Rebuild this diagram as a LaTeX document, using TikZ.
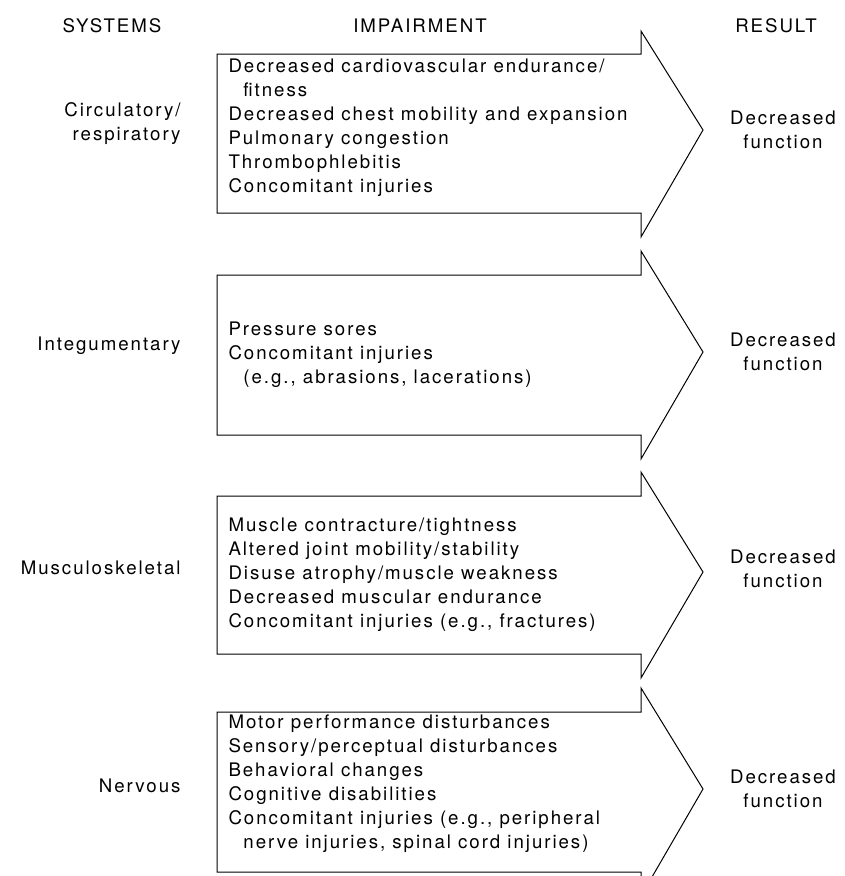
\documentclass[tikz,border=0pt]{standalone}
\usepackage{fontspec}
\setmainfont{TeX Gyre Heros}[LetterSpace=10.5]
\usepackage{tikz}
\usetikzlibrary{positioning}

\begin{document}
\begin{tikzpicture}[
	x=0.75pt, y=-0.75pt,
	line width=0.75pt,
	font=\fontsize{14}{18}\selectfont
]
\tikzset{
    header/.style = {inner sep=0pt},
    sysnode/.style = {anchor=east, align=right, inner sep=0pt},
    impnode/.style = {anchor=west, align=left, inner sep=0pt},
    resnode/.style = {align=center, inner sep=0pt},
    bigarrow/.style = {draw=black, line join=miter},
}
\useasboundingbox (0,0) rectangle (844,876);

% column heads
\node[header] (hsys) at (112,26) {SYSTEMS};
\node[header] (himp) at (420,26) {IMPAIRMENT};
\node[header] (hres) at (776,26) {RESULT};

% the four arrows
\draw[bigarrow] (217,54) -- (641,54) -- (641,31) -- (703,130) -- (641,237) -- (641,213) -- (217,213) -- cycle;
\draw[bigarrow] (217,275) -- (641,275) -- (641,251) -- (703,352) -- (641,459) -- (641,435) -- (217,435) -- cycle;
\draw[bigarrow] (217,496) -- (641,496) -- (641,472) -- (703,572) -- (641,678) -- (641,654) -- (217,654) -- cycle;
\draw[bigarrow] (217,712) -- (641,712) -- (641,688) -- (703,789) -- (641,896) -- (641,872) -- (217,872) -- cycle;

% systems
\node[sysnode] (sys1) at (181,124) {Circulatory/\\respiratory};
\node[sysnode] (sys2) at (181,346) {Integumentary};
\node[sysnode] (sys3) at (181,568) {Musculoskeletal};
\node[sysnode] (sys4) at (181,786) {Nervous};

% impairments
\node[impnode] (imp1) at (228,128) {Decreased cardiovascular endurance/\\
	\hspace*{0.8em}fitness\\
	Decreased chest mobility and expansion\\
	Pulmonary congestion\\
	Thrombophlebitis\\
	Concomitant injuries};
\node[impnode] (imp2) at (228,355) {Pressure sores\\
	Concomitant injuries\\
	\hspace*{0.8em}(e.g., abrasions, lacerations)};
\node[impnode] (imp3) at (228,575) {Muscle contracture/tightness\\
	Altered joint mobility/stability\\
	Disuse atrophy/muscle weakness\\
	Decreased muscular endurance\\
	Concomitant injuries (e.g., fractures)};
\node[impnode] (imp4) at (228,784) {Motor performance disturbances\\
	Sensory/perceptual disturbances\\
	Behavioral changes\\
	Cognitive disabilities\\
	Concomitant injuries (e.g., peripheral\\
	\hspace*{0.8em}nerve injuries, spinal cord injuries)};

% results
\node[resnode] (res1) at (783,130) {Decreased\\function};
\node[resnode] (res2) at (783,352) {Decreased\\function};
\node[resnode] (res3) at (783,569) {Decreased\\function};
\node[resnode] (res4) at (783,789) {Decreased\\function};
\end{tikzpicture}
\end{document}
